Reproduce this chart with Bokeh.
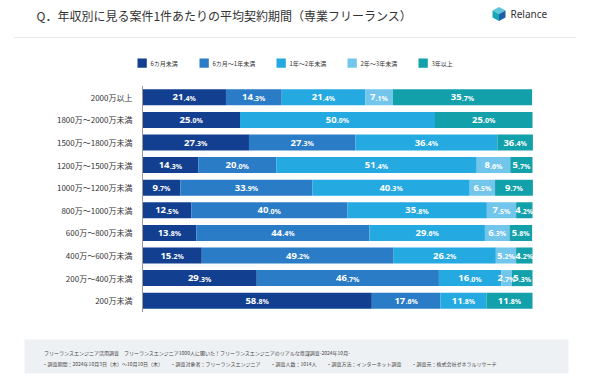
from bokeh.plotting import figure
from bokeh.models import ColumnDataSource, Range1d, Label, BoxAnnotation, PolyAnnotation
from bokeh.core.properties import value
from bokeh.embed import file_html
from bokeh.resources import INLINE

# ---------------- data ----------------
categories = ["2000万以上", "1800万〜2000万未満", "1500万〜1800万未満", "1200万〜1500万未満",
              "1000万〜1200万未満", "800万〜1000万未満", "600万〜800万未満", "400万〜600万未満",
              "200万〜400万未満", "200万未満"]
series_names = ["6カ月未満", "6カ月〜1年未満", "1年〜2年未満", "2年〜3年未満", "3年以上"]
under_6m = [21.4, 25.0, 27.3, 14.3, 9.7, 12.5, 13.8, 15.2, 29.3, 58.8]
m6_to_1y = [14.3, 0.0, 27.3, 20.0, 33.9, 40.0, 44.4, 49.2, 46.7, 17.6]
y1_to_2y = [21.4, 50.0, 36.4, 51.4, 40.3, 35.8, 29.6, 26.2, 16.0, 11.8]
y2_to_3y = [7.1, 0.0, 0.0, 8.6, 6.5, 7.5, 6.3, 5.2, 2.7, 0.0]
over_3y = [35.7, 25.0, 9.1, 5.7, 9.7, 4.2, 5.8, 4.2, 5.3, 11.8]
# label as printed in the source chart (differs from segment width)
label_override = {(2, 4): "36.4"}

title_text = "Q．年収別に見る案件1件あたりの平均契約期間（専業フリーランス）"
footer_line1 = "フリーランスエンジニア活用調査　フリーランスエンジニア1000人に聞いた！フリーランスエンジニアのリアルな意識調査-2024年10月-"
footer_line2 = ("・調査期間：2024年10月3日（木）〜10月10日（木）　　・調査対象者：フリーランスエンジニア　　"
                "・調査人数：1014人　　・調査方法：インターネット調査　　・調査元：株式会社ゼネラルリサーチ")

colors = ["#123f8f", "#2a7cc6", "#25a9e1", "#72c6ec", "#12a0ab"]
keys = ["s0", "s1", "s2", "s3", "s4"]
series = [under_6m, m6_to_1y, y1_to_2y, y2_to_3y, over_3y]

JP = "Noto Sans CJK JP"

# ---------------- layout constants (page px) ----------------
W, H = 590, 384
BAR_X0, BAR_X1 = 142, 532
PX_PER_PCT = (BAR_X1 - BAR_X0) / 100.0
ROW_TOP, ROW_BOT = 96.8, 300.2   # centres of first / last rows
row_px = (ROW_BOT - ROW_TOP) / (len(categories) - 1)


def xd(X):  # page px -> data x (percent)
    return (X - BAR_X0) / PX_PER_PCT


def yd(Y):  # page px -> data y (row index, 0 = top row)
    return (Y - ROW_TOP) / row_px


p = figure(width=W, height=H, output_backend="svg", toolbar_location=None,
           x_range=Range1d(xd(0), xd(W)), y_range=Range1d(yd(H), yd(0)),
           x_axis_location=None, y_axis_location=None,
           min_border_left=0, min_border_right=0, min_border_top=0,
           min_border_bottom=0)
p.title.visible = False
p.outline_line_color = None
p.background_fill_color = "white"
p.border_fill_color = "white"
p.grid.visible = False

# ---------------- bars ----------------
rows = list(range(len(categories)))
src = ColumnDataSource(dict(row=rows, cat=categories, **{k: v for k, v in zip(keys, series)}))
p.hbar_stack(keys, y="row", height=0.71, color=colors, line_color=None, source=src)

# category axis (line + labels)
p.segment(x0=[0], y0=[rows[0] - 0.5], x1=[0], y1=[rows[-1] + 0.5],
          line_color="#9a9a9a", line_width=1)
p.text(x=[0] * len(categories), y=rows, text=categories, x_offset=-10,
       text_font=value(JP), text_font_size="8px", text_color="#333333",
       text_align="right", text_baseline="middle")

# segment labels
xs, ys, ti, td, oi, od = [], [], [], [], [], []
for i in rows:
    cum = 0.0
    for j in range(5):
        v = series[j][i]
        if v > 0:
            txt = label_override.get((i, j), f"{v:.1f}")
            a, b = txt.split(".")
            wi = len(a) * 0.58 * 9.5
            wd = (0.3 + 0.58 + 0.9) * 7.0
            tot = wi + wd
            xs.append(cum + v / 2.0)
            ys.append(i)
            ti.append(a)
            td.append("." + b + "%")
            oi.append(-tot / 2.0)
            od.append(-tot / 2.0 + wi)
        cum += v
lab = ColumnDataSource(dict(x=xs, y=ys, ti=ti, td=td, oi=oi, od=od))
p.text(x="x", y="y", text="ti", x_offset="oi", y_offset=0, source=lab,
       text_font=value("Noto Sans"), text_font_size="9.5px", text_font_style="bold",
       text_color="white", text_align="left", text_baseline="middle")
p.text(x="x", y="y", text="td", x_offset="od", y_offset=0.9, source=lab,
       text_font=value("Noto Sans"), text_font_size="7px", text_font_style="bold",
       text_color="white", text_align="left", text_baseline="middle")


# ---------------- decorations (given in page px) ----------------
def add_label(X, Y, text, size, color="#333333", font=JP, style="normal", align="left"):
    p.add_layout(Label(x=xd(X), y=yd(Y), text=text,
                       text_font=font, text_font_size=size, text_color=color,
                       text_font_style=style, text_align=align, text_baseline="middle"))


def add_box(X0, Y0, X1, Y1, color):
    p.add_layout(BoxAnnotation(left=xd(X0), right=xd(X1), top=yd(Y0), bottom=yd(Y1),
                               fill_color=color, fill_alpha=1.0, line_color=None,
                               editable=False, level="underlay"))


def add_poly(pts, color):
    p.add_layout(PolyAnnotation(xs=[xd(a) for a, b in pts], ys=[yd(b) for a, b in pts],
                                fill_color=color, fill_alpha=1.0, line_color=None))


# header
add_label(36, 15, title_text, "12px", color="#333333")
add_box(13, 36.5, 576, 37.5, "#e9ecef")
add_poly([(492, 10), (498.5, 6.5), (505, 10), (498.5, 13.5)], "#5cc6da")
add_poly([(492, 10), (498.5, 13.5), (498.5, 20.5), (492, 17)], "#17a7b8")
add_poly([(498.5, 13.5), (505, 10), (505, 17), (498.5, 20.5)], "#1d5fa6")
add_label(510, 13.5, "Relance", "10px", color="#333333", font="Noto Sans")

# legend
leg_sq_x = [137, 199, 276, 347, 418]
for j, name in enumerate(series_names):
    X = leg_sq_x[j]
    add_box(X, 58, X + 9.3, 67.3, colors[j])
    add_label(X + 13, 62.7, name, "6px", color="#333333")

# footer
add_box(24, 339, 568, 373, "#eef1f4")
add_label(43.5, 352, footer_line1, "5px", color="#444444")
add_label(42, 362.5, footer_line2, "5px", color="#444444")

open("out.html", "w").write(file_html(p, INLINE))
